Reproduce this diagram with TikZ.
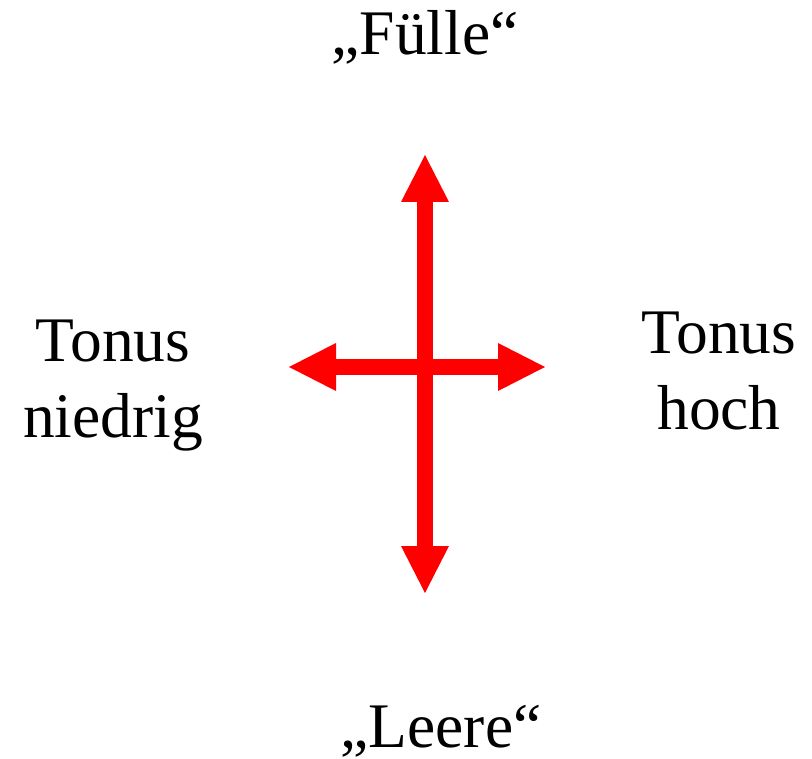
\documentclass[tikz,border=0pt]{standalone}
\usepackage{fontspec}
\setmainfont{Liberation Serif}
\usetikzlibrary{arrows.meta}
\definecolor{arrred}{RGB}{255,0,0}
\begin{document}
\begin{tikzpicture}[x=1pt,y=-1pt,
  lbl/.style={inner sep=0pt,font=\fontsize{63.5}{76}\selectfont,align=center},
  bigarrow/.style={draw=arrred,line width=16pt,
    {Triangle[length=47pt,width=48pt,line width=0pt]}-{Triangle[length=47pt,width=48pt,line width=0pt]}}]
\useasboundingbox (0,0) rectangle (812,759);
\coordinate (top) at (425,155);
\coordinate (bot) at (425,593);
\coordinate (lft) at (289,367);
\coordinate (rgt) at (545,367);
\draw[bigarrow] (bot) -- (top);
\draw[bigarrow] (lft) -- (rgt);
\node[lbl,anchor=base] (fuelle) at (425,55) {„Fülle“};
\node[lbl,anchor=base] (leere) at (441,747) {„Leere“};
\node[lbl,anchor=north] (niedrig) at (113,320) {Tonus\\niedrig};
\node[lbl,anchor=north] (hoch) at (719,312) {Tonus\\hoch};
\end{tikzpicture}
\end{document}
